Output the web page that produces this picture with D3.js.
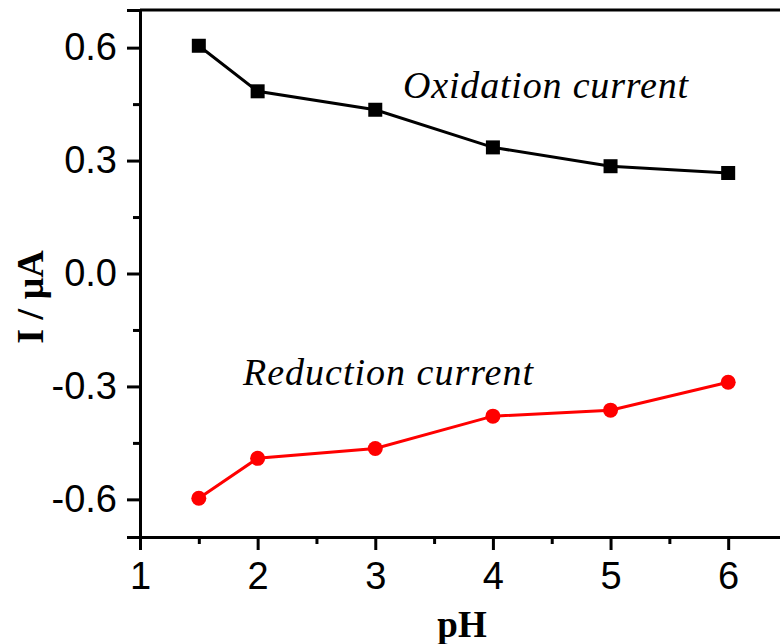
<!DOCTYPE html>
<html>
<head>
<meta charset="utf-8">
<script src="https://cdn.jsdelivr.net/npm/d3@7"></script>
<style>
  html, body { margin: 0; padding: 0; background: #ffffff; }
  svg { display: block; }
</style>
</head>
<body>
<svg id="chart" width="780" height="644"></svg>
<script>
// pH values and measured peak currents (µA)
const phValues = [1.5, 2, 3, 4, 5, 6];
const oxidationCurrent = [0.605, 0.484, 0.435, 0.335, 0.285, 0.267];
const reductionCurrent = [-0.597, -0.491, -0.465, -0.379, -0.363, -0.289];

const xTicks = [1, 2, 3, 4, 5, 6];
const xMinorTicks = [1.5, 2.5, 3.5, 4.5, 5.5];
const yTicks = [-0.6, -0.3, 0.0, 0.3, 0.6];
const yMinorTicks = [-0.45, -0.15, 0.15, 0.45];

const svg = d3.select("#chart");
const margin = { left: 140, top: 10 };
const plotW = 647, plotH = 527;

const x = d3.scaleLinear().domain([1, 6.5]).range([margin.left, margin.left + plotW]);
const y = d3.scaleLinear().domain([-0.7, 0.7]).range([margin.top + plotH, margin.top]);

const tickFont = "'Liberation Sans', Arial, sans-serif";
const serif = "'Liberation Serif', 'Times New Roman', serif";

// x axis (major + minor ticks)
const xAxis = svg.append("g")
  .attr("transform", `translate(0,${y(-0.7)})`)
  .call(d3.axisBottom(x).tickValues(xTicks).tickFormat(d3.format("d"))
    .tickSize(13).tickPadding(10));
svg.append("g")
  .attr("transform", `translate(0,${y(-0.7)})`)
  .call(d3.axisBottom(x).tickValues(xMinorTicks).tickFormat("").tickSize(7))
  .call(g => g.select(".domain").remove());

// y axis (major + minor ticks)
const yAxis = svg.append("g")
  .attr("transform", `translate(${x(1)},0)`)
  .call(d3.axisLeft(y).tickValues(yTicks).tickFormat(d3.format(".1f"))
    .tickSize(13).tickPadding(10));
svg.append("g")
  .attr("transform", `translate(${x(1)},0)`)
  .call(d3.axisLeft(y).tickValues(yMinorTicks).tickFormat("").tickSize(7))
  .call(g => g.select(".domain").remove());

svg.selectAll(".tick line").style("stroke", "#000").style("stroke-width", "3px");
svg.selectAll(".domain").style("stroke", "#000").style("stroke-width", "3px");
svg.selectAll(".tick text")
  .attr("font-family", tickFont)
  .attr("font-size", 38)
  .attr("fill", "#000");
xAxis.selectAll(".tick text").attr("dy", "0.75em");
yAxis.selectAll(".tick text").text(d => d3.format(".1f")(d).replace("−", "-"));

// frame top and right
svg.append("path")
  .attr("d", `M${x(1)},${y(0.7)}H${x(6.5)}V${y(-0.7)}`)
  .attr("fill", "none")
  .attr("stroke", "#000")
  .attr("stroke-width", 3);

// data series
const line = d3.line().x((d, i) => x(phValues[i])).y(d => y(d));

svg.append("path")
  .datum(oxidationCurrent)
  .attr("d", line)
  .attr("fill", "none")
  .attr("stroke", "#000")
  .attr("stroke-width", 3);

svg.append("g").selectAll("rect")
  .data(oxidationCurrent)
  .join("rect")
  .attr("x", (d, i) => x(phValues[i]) - 7)
  .attr("y", d => y(d) - 7)
  .attr("width", 14)
  .attr("height", 14)
  .attr("fill", "#000");

svg.append("path")
  .datum(reductionCurrent)
  .attr("d", line)
  .attr("fill", "none")
  .attr("stroke", "#ff0000")
  .attr("stroke-width", 3);

svg.append("g").selectAll("circle")
  .data(reductionCurrent)
  .join("circle")
  .attr("cx", (d, i) => x(phValues[i]))
  .attr("cy", d => y(d))
  .attr("r", 7.5)
  .attr("fill", "#ff0000");

// series annotations
svg.append("text")
  .attr("x", 403).attr("y", 98)
  .attr("font-family", serif)
  .attr("font-style", "italic")
  .attr("font-size", 38)
  .attr("textLength", 285)
  .attr("fill", "#000")
  .text("Oxidation current");

svg.append("text")
  .attr("x", 243).attr("y", 385)
  .attr("font-family", serif)
  .attr("font-style", "italic")
  .attr("font-size", 38)
  .attr("textLength", 290)
  .attr("fill", "#000")
  .text("Reduction current");

// axis titles
svg.append("text")
  .attr("x", 462).attr("y", 637)
  .attr("text-anchor", "middle")
  .attr("font-family", serif)
  .attr("font-weight", "bold")
  .attr("font-size", 37)
  .attr("fill", "#000")
  .text("pH");

svg.append("text")
  .attr("transform", "translate(43,297) rotate(-90)")
  .attr("text-anchor", "middle")
  .attr("font-family", serif)
  .attr("font-weight", "bold")
  .attr("font-size", 38)
  .attr("fill", "#000")
  .text("I / μA");
</script>
</body>
</html>
